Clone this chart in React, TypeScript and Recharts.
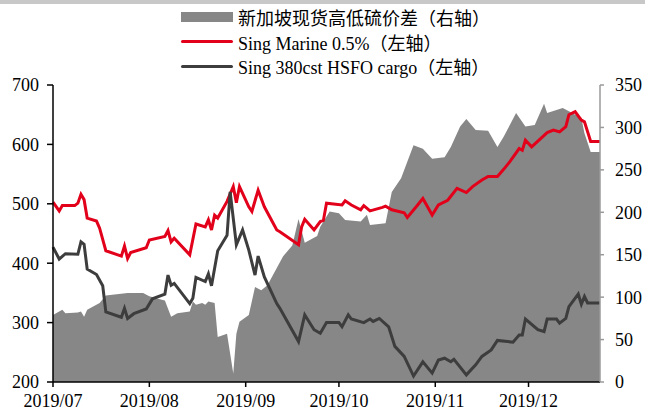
import { Area, ComposedChart, Line, XAxis, YAxis } from 'recharts';

document.body.style.margin = '0';

// x values are day offsets from 2019-07-01
const MONTH_START_DAYS = [0, 31, 62, 92, 123, 153];
const MONTH_LABELS = ['2019/07', '2019/08', '2019/09', '2019/10', '2019/11', '2019/12'];
const LEFT_TICKS = [200, 300, 400, 500, 600, 700];
const RIGHT_TICKS = [0, 50, 100, 150, 200, 250, 300, 350];

// Sing Marine 0.5% (left axis)
const RED_DAYS = [0, 2, 3, 7, 8, 9, 10, 11, 14, 15, 17, 22, 23, 24, 25, 30, 31, 36, 37, 38, 39, 44, 46, 49, 50, 51, 52, 53, 56, 58, 59, 60, 63, 64, 66, 68, 72, 73, 79, 80, 81, 84, 86, 87, 88, 93, 94, 96, 99, 100, 102, 106, 107, 109, 113, 114, 117, 119, 122, 124, 127, 130, 133, 135, 138, 140, 143, 145, 147, 150, 151, 152, 154, 159, 161, 163, 165, 166, 168, 170, 171, 173, 176];
const RED_VALS = [503, 488, 497, 497, 501, 516, 507, 476, 471, 459, 421, 412, 429, 408, 418, 426, 439, 445, 455, 436, 442, 414, 466, 461, 473, 456, 481, 476, 504, 529, 502, 529, 495, 487, 523, 495, 456, 453, 431, 461, 474, 456, 470, 472, 501, 498, 505, 498, 490, 497, 488, 494, 496, 490, 485, 477, 496, 509, 481, 498, 506, 526, 519, 529, 540, 546, 546, 558, 571, 593, 590, 607, 596, 620, 624, 621, 630, 650, 655, 641, 638, 605, 605];

// Sing 380cst HSFO cargo (left axis)
const HSFO_DAYS = [0, 2, 4, 8, 9, 10, 11, 14, 16, 17, 22, 23, 24, 26, 30, 32, 36, 37, 38, 39, 44, 45, 46, 49, 50, 51, 53, 56, 57, 59, 61, 63, 65, 66, 68, 72, 73, 79, 81, 84, 86, 88, 92, 93, 95, 96, 100, 102, 103, 105, 108, 110, 113, 116, 119, 122, 124, 126, 128, 129, 133, 136, 138, 141, 143, 148, 150, 151, 152, 156, 158, 159, 162, 163, 165, 166, 169, 170, 171, 172, 176];
const HSFO_VALS = [427, 407, 416, 415, 436, 432, 390, 381, 362, 318, 309, 324, 307, 315, 323, 340, 348, 380, 363, 366, 332, 341, 376, 369, 382, 362, 421, 447, 520, 431, 456, 422, 380, 412, 377, 332, 324, 268, 313, 288, 282, 300, 300, 293, 313, 306, 300, 306, 302, 307, 293, 260, 243, 210, 234, 215, 237, 240, 234, 238, 212, 229, 243, 254, 270, 267, 279, 279, 306, 288, 285, 306, 306, 299, 307, 327, 348, 331, 344, 333, 333];

// 新加坡现货高低硫价差 (right axis)
const SPREAD_DAYS = [0, 3, 4, 8, 9, 10, 11, 15, 17, 24, 29, 31, 35, 36, 38, 40, 44, 45, 46, 48, 49, 50, 52, 53, 56, 58, 59, 60, 63, 65, 67, 69, 74, 77, 79, 81, 85, 86, 89, 92, 94, 99, 101, 102, 107, 109, 112, 116, 119, 122, 126, 128, 131, 133, 136, 140, 143, 145, 149, 152, 155, 158, 159, 164, 166, 170, 171, 173, 176];
const SPREAD_VALS = [79, 85, 81, 82, 83, 77, 85, 93, 102, 105, 105, 101, 97, 96, 77, 81, 83, 95, 91, 93, 91, 95, 93, 53, 57, 10, 57, 71, 79, 112, 108, 114, 148, 161, 192, 164, 172, 183, 201, 199, 191, 189, 197, 185, 187, 224, 240, 279, 275, 263, 265, 277, 301, 310, 297, 296, 277, 289, 317, 301, 303, 328, 317, 323, 319, 311, 293, 271, 271];

const toRows = (days: number[], vals: number[]) => days.map((d, i) => ({ d, v: vals[i] }));

const redData = toRows(RED_DAYS, RED_VALS);
const hsfoData = toRows(HSFO_DAYS, HSFO_VALS);
const spreadData = toRows(SPREAD_DAYS, SPREAD_VALS);

const FONT = "'Liberation Serif', 'Times New Roman', 'Noto Sans CJK SC', serif";
const RED = '#e2001a';
const DARK = '#3d3d3d';
const GRAY = '#878787';

const tick = { fontSize: 18, fill: '#000', fontFamily: FONT };

const legendRows = [
  { label: '新加坡现货高低硫价差（右轴）', kind: 'area', color: GRAY },
  { label: 'Sing Marine 0.5%（左轴）', kind: 'line', color: RED },
  { label: 'Sing 380cst HSFO cargo（左轴）', kind: 'line', color: DARK },
];

export default function App() {
  return (
    <div style={{ position: 'relative', width: 645, height: 416, background: '#fff', fontFamily: FONT }}>
      <div style={{ position: 'absolute', left: 0, top: 0, width: 645, height: 4, background: '#c8c8c8' }} />
      <div style={{ position: 'absolute', left: 181, top: 5 }}>
        {legendRows.map((r) => (
          <div key={r.label} style={{ display: 'flex', alignItems: 'center', height: 24.5, fontSize: 18, color: '#000', whiteSpace: 'nowrap' }}>
            <span
              style={{
                display: 'inline-block',
                width: 52,
                height: r.kind === 'area' ? 10 : 3,
                background: r.color,
                borderRadius: r.kind === 'area' ? 0 : 2,
                marginRight: 5,
              }}
            />
            {r.label}
          </div>
        ))}
      </div>
      <ComposedChart width={645} height={416} margin={{ top: 85, right: 0, bottom: 0, left: 0 }}>
        <XAxis
          type="number"
          dataKey="d"
          domain={[0, 176]}
          ticks={MONTH_START_DAYS}
          interval={0}
          tickFormatter={(v: number) => MONTH_LABELS[MONTH_START_DAYS.indexOf(v)]}
          height={34}
          tickSize={5}
          tickMargin={7}
          tick={tick}
          axisLine={{ stroke: '#000', strokeWidth: 1.5 }}
          tickLine={{ stroke: '#000', strokeWidth: 1.5 }}
        />
        <YAxis
          yAxisId="left"
          domain={[200, 700]}
          ticks={LEFT_TICKS}
          interval={0}
          width={53}
          tickSize={6}
          tickMargin={8}
          tick={tick}
          axisLine={{ stroke: '#000', strokeWidth: 1.5 }}
          tickLine={{ stroke: '#000', strokeWidth: 1.5 }}
        />
        <YAxis
          yAxisId="right"
          orientation="right"
          domain={[0, 350]}
          ticks={RIGHT_TICKS}
          interval={0}
          width={45}
          tickSize={4}
          tickMargin={11}
          tick={tick}
          axisLine={{ stroke: '#9a9a9a', strokeWidth: 1.5 }}
          tickLine={{ stroke: '#9a9a9a', strokeWidth: 1.5 }}
        />
        <Area
          yAxisId="right"
          data={spreadData}
          dataKey="v"
          type="linear"
          stroke="none"
          fill={GRAY}
          fillOpacity={1}
          isAnimationActive={false}
        />
        <Line
          yAxisId="left"
          data={redData}
          dataKey="v"
          type="linear"
          stroke={RED}
          strokeWidth={3}
          dot={false}
          isAnimationActive={false}
        />
        <Line
          yAxisId="left"
          data={hsfoData}
          dataKey="v"
          type="linear"
          stroke={DARK}
          strokeWidth={3}
          dot={false}
          isAnimationActive={false}
        />
      </ComposedChart>
    </div>
  );
}
